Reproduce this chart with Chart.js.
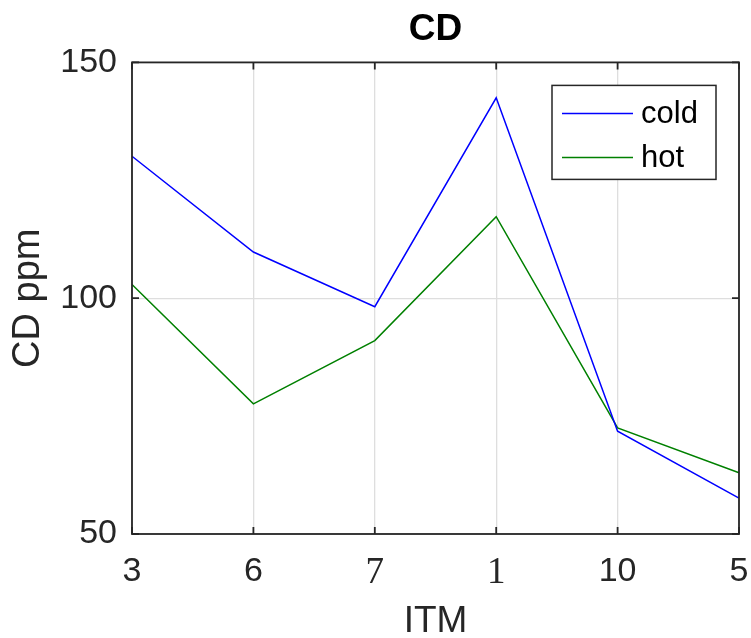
<!DOCTYPE html>
<html>
<head>
<meta charset="utf-8">
<script src="https://cdn.jsdelivr.net/npm/chart.js@4"></script>
<style>
  html, body { margin: 0; padding: 0; background: #fff; }
  #chart { display: block; }
</style>
</head>
<body>
<canvas id="chart" width="751" height="638"></canvas>
<script>
var itm = ['3', '6', '7', '1', '10', '5'];
var cold = [130.1, 109.8, 98.2, 142.5, 71.8, 57.6];
var hot = [102.9, 77.6, 91.0, 117.3, 72.5, 63.0];
var yTicks = [50, 100, 150];

var sans = "'Liberation Sans', Arial, Helvetica, sans-serif";
var serif = "'Liberation Serif', 'Times New Roman', serif";
var axisColor = '#262626';

// box round the plot area, with ticks pointing inward on all four sides
var boxPlugin = {
    id: 'box',
    afterDatasetsDraw: function (chart) {
        var c = chart.ctx, a = chart.chartArea;
        var x = chart.scales.x, y = chart.scales.y;
        var len = 7;
        c.save();
        c.strokeStyle = axisColor;
        c.lineWidth = 1.8;
        c.beginPath();
        for (var i = 0; i < x.ticks.length; i++) {
            var px = x.getPixelForTick(i);
            c.moveTo(px, a.bottom); c.lineTo(px, a.bottom - len);
            c.moveTo(px, a.top); c.lineTo(px, a.top + len);
        }
        for (var j = 0; j < y.ticks.length; j++) {
            var py = y.getPixelForTick(j);
            c.moveTo(a.left, py); c.lineTo(a.left + len, py);
            c.moveTo(a.right, py); c.lineTo(a.right - len, py);
        }
        c.stroke();
        c.strokeRect(a.left, a.top, a.right - a.left, a.bottom - a.top);
        c.restore();
    }
};

// boxed legend in the top right corner of the plot
var legendBoxPlugin = {
    id: 'legendBox',
    afterDraw: function (chart) {
        var c = chart.ctx, a = chart.chartArea;
        var w = 164, h = 94;
        var left = a.right - 23 - w, top = a.top + 23;
        c.save();
        c.fillStyle = '#fff';
        c.fillRect(left, top, w, h);
        c.strokeStyle = axisColor;
        c.lineWidth = 1.5;
        c.strokeRect(left, top, w, h);
        c.font = '31px ' + sans;
        c.textBaseline = 'middle';
        c.textAlign = 'left';
        chart.data.datasets.forEach(function (ds, i) {
            var cy = top + 28 + i * 44;
            c.strokeStyle = ds.borderColor;
            c.lineWidth = 1.5;
            c.beginPath();
            c.moveTo(left + 10, cy);
            c.lineTo(left + 81, cy);
            c.stroke();
            c.fillStyle = '#000';
            c.fillText(ds.label, left + 89, cy + 1);
        });
        c.restore();
    }
};

var ctx = document.getElementById('chart');
var chart = new Chart(ctx, {
    type: 'line',
    data: {
        labels: itm,
        datasets: [
            { label: 'cold', data: cold, borderColor: '#0000ff', borderWidth: 1.5, pointRadius: 0, tension: 0, fill: false },
            { label: 'hot', data: hot, borderColor: '#008000', borderWidth: 1.5, pointRadius: 0, tension: 0, fill: false }
        ]
    },
    options: {
        responsive: false,
        animation: false,
        devicePixelRatio: 1,
        layout: { padding: { left: 0, right: 12, top: 0, bottom: 0 } },
        plugins: {
            legend: { display: false },
            tooltip: { enabled: false },
            title: {
                display: true,
                text: 'CD',
                fullSize: false,
                color: '#000',
                font: { family: sans, size: 37, weight: 'bold', lineHeight: 1.2 },
                padding: { top: 8, bottom: 10 }
            }
        },
        scales: {
            x: {
                type: 'category',
                offset: false,
                border: { display: false },
                grid: { color: '#dedede', lineWidth: 1.3, drawTicks: false, tickLength: 0 },
                ticks: {
                    color: axisColor,
                    padding: 17,
                    maxRotation: 0,
                    autoSkip: false,
                    font: function (context) {
                        var lab = context.tick ? context.tick.label : '';
                        if (lab === '7' || lab === '1') {
                            return { family: serif, size: 37, lineHeight: 1.2 };
                        }
                        return { family: sans, size: 34, lineHeight: 1.2 };
                    }
                },
                title: {
                    display: true,
                    text: 'ITM',
                    color: axisColor,
                    font: { family: sans, size: 37, lineHeight: 0.85 },
                    padding: 0
                },
                afterFit: function (scale) {
                    scale.height = 104;
                    scale.paddingLeft = 0;
                    scale.paddingRight = 0;
                }
            },
            y: {
                min: 50,
                max: 150,
                border: { display: false },
                grid: { color: '#dedede', lineWidth: 1.3, drawTicks: false, tickLength: 0 },
                afterBuildTicks: function (scale) {
                    scale.ticks = yTicks.map(function (v) { return { value: v }; });
                },
                ticks: {
                    color: axisColor,
                    padding: 15,
                    font: { family: sans, size: 34, lineHeight: 1.2 }
                },
                title: {
                    display: true,
                    text: 'CD ppm',
                    color: axisColor,
                    font: { family: sans, size: 38, lineHeight: 1.2 },
                    padding: { top: 6, bottom: 0 }
                },
                afterFit: function (scale) {
                    scale.width = 132;
                    scale.paddingTop = 0;
                    scale.paddingBottom = 0;
                }
            }
        }
    },
    plugins: [boxPlugin, legendBoxPlugin]
});
</script>
</body>
</html>
